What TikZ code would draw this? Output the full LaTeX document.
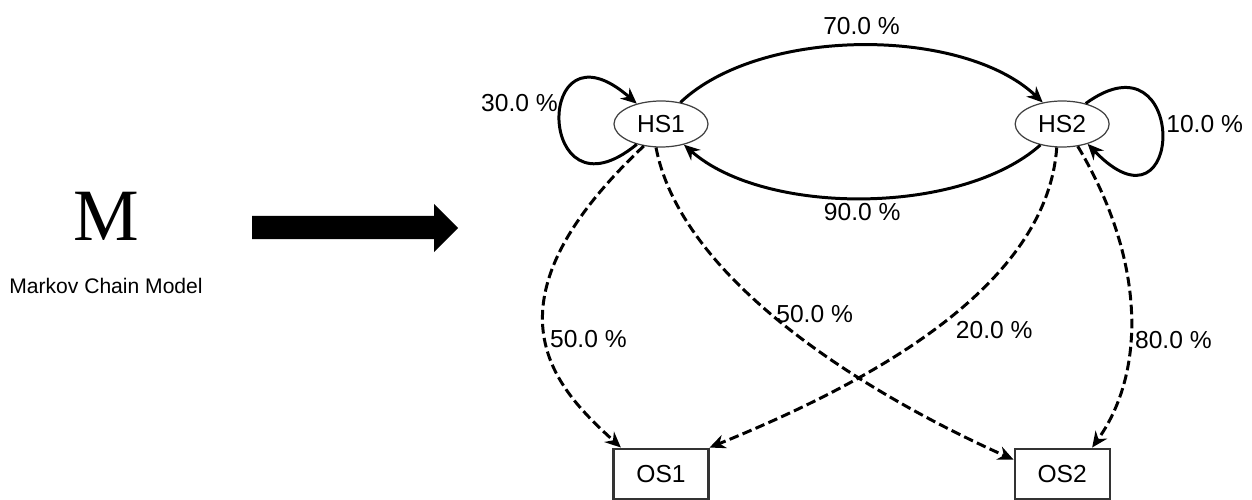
\documentclass[tikz,border=0pt]{standalone}
\usepackage{fontspec}
\setmainfont{Liberation Sans}
\newfontfamily\bigserif{Liberation Serif}
\usepackage{tikz}
\usetikzlibrary{shapes.geometric, positioning, arrows.meta}
\tikzset{
  hstate/.style={ellipse, minimum width=1.88cm, minimum height=0.92cm, inner sep=0pt, draw=black!75, line width=0.7pt, font=\fontsize{14}{16}\selectfont},
  ostate/.style={rectangle, minimum width=1.9cm, minimum height=1cm, inner sep=0pt, draw=black!80, line width=1.2pt, font=\fontsize{14}{16}\selectfont},
  trans/.style={line width=1.7pt, ->, >={Stealth[length=9pt,width=8pt]}},
  emit/.style={trans, dash pattern=on 5.5pt off 2.5pt},
  prob/.style={font=\fontsize{14}{16}\selectfont, inner sep=2pt}
}

\begin{document}
\begin{tikzpicture}[x=0.02cm, y=-0.02cm]
  \useasboundingbox (0,0) rectangle (1252,500);

  % Model
  \node (mlogo) [inner sep=0pt, font=\bigserif\fontsize{42}{44}\selectfont] at (106,216) {M};
  \node (mname) [below=0.74cm of mlogo, inner sep=0pt, font=\fontsize{12}{14}\selectfont] {Markov Chain Model};

  % Big arrow
  \fill (252,216) -- (434,216) -- (434,204) -- (458,228) -- (434,252) -- (434,239) -- (252,239) -- cycle;

  % States
  \node (hs1) [hstate] at (661,124) {HS1};
  \node (hs2) [hstate, right=6.12cm of hs1] {HS2};
  \node (os1) [ostate, below=6cm of hs1] {OS1};
  \node (os2) [ostate, below=6cm of hs2] {OS2};

  % Hidden transitions
  \draw [trans] (hs1.220) .. controls +(-101,83) and +(-104,-91) .. node[prob, left, pos=0.6] {30.0 \%} (hs1.140);
  \draw [trans] (hs2.41) .. controls +(103,-75) and +(98,102) .. node[prob, right, pos=0.45] {10.0 \%} (hs2.322);
  \draw [trans] (hs1.48) .. controls +(80,-76) and +(-80,-76) .. node[prob, above=3pt] {70.0 \%} (hs2.132);
  \draw [trans] (hs2.224) .. controls +(-80,71) and +(80,71) .. node[prob, below] {90.0 \%} (hs1.318);

  % Emissions
  \draw [emit] (hs1.232) .. controls +(-172,162) and +(-62,-57) .. node[prob, anchor=west, pos=0.51] {50.0 \%} (os1.147);
  \draw [emit] (hs1.258) .. controls +(25,131) and +(-152,-68) .. node[prob, anchor=west, pos=0.46] {50.0 \%} (os2.164);
  \draw [emit] (hs2.257) .. controls +(-10,140) and +(160,-65) .. node[prob, anchor=north west, pos=0.47] {20.0 \%} (os1.north east);
  \draw [emit] (hs2.305) .. controls +(67,112) and +(55,-77) .. node[prob, anchor=west, pos=0.6] {80.0 \%} (os2.41);

\end{tikzpicture}
\end{document}
